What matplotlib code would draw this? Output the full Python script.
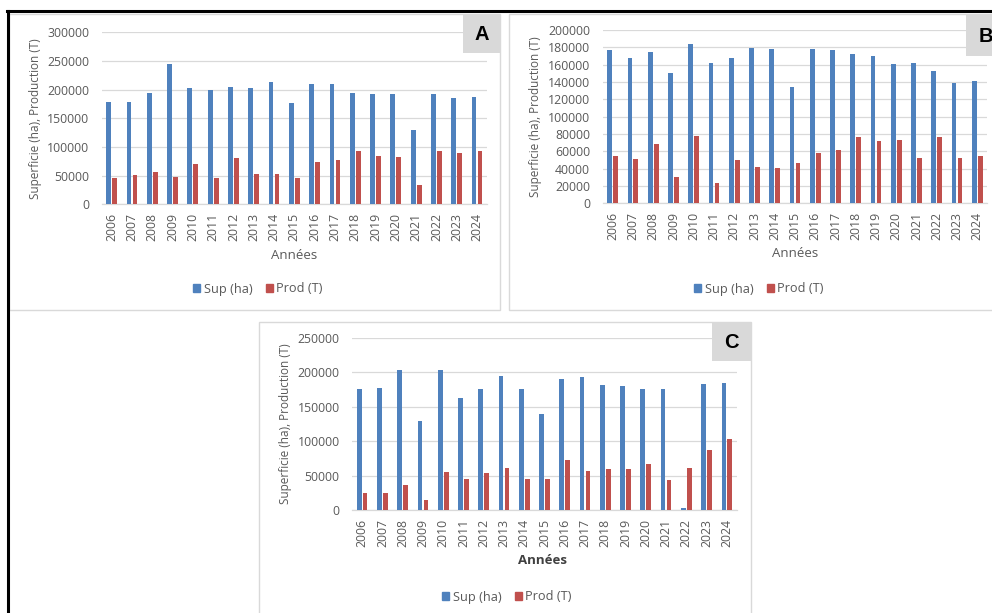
import matplotlib
matplotlib.use('Agg')
import matplotlib.pyplot as plt
from matplotlib.patches import Rectangle
import numpy as np

plt.rcParams['font.family'] = ['Open Sans', 'DejaVu Sans']

years = [str(y) for y in range(2006, 2025)]

sup_A = [179000, 179000, 194000, 245000, 203500, 198800, 204700, 202300, 214000, 177300,
         209300, 209300, 194000, 193000, 193000, 129000, 193000, 186000, 187000]
prod_A = [45300, 51200, 55800, 47700, 69800, 45300, 80800, 53500, 52300, 46500,
          73300, 77900, 93600, 83700, 82600, 34300, 92400, 90100, 93600]

sup_B = [177000, 168100, 175000, 150900, 184300, 162000, 168100, 179700, 177700, 134000,
         177700, 176600, 172400, 170400, 161200, 162000, 153200, 139300, 140900]
prod_B = [54100, 51100, 68700, 29900, 77900, 23800, 50300, 41500, 40700, 46400,
          58000, 61400, 76000, 72200, 72900, 52600, 76000, 52600, 54100]

sup_C = [175200, 177100, 203700, 129300, 203700, 162600, 175200, 194000, 175200, 140000,
         190600, 193100, 181900, 180000, 176200, 176200, 2900, 182900, 184800]
prod_C = [25100, 25100, 37200, 14500, 55500, 45800, 54500, 61300, 45800, 45800,
          72400, 56500, 59400, 59400, 67600, 43900, 61300, 87800, 102800]

series_labels = ['Sup (ha)', 'Prod (T)']
ylabel_text = 'Superficie (ha), Production (T)'
xlabel_text = 'Années'

BLUE = '#4F81BD'
RED = '#C0504D'
GRID = '#D9D9D9'
TXT = '#595959'

W, H = 992, 613
fig = plt.figure(figsize=(W / 100, H / 100), dpi=100)


def fx(x):
    return x / W


def fy(y):
    return 1 - y / H


def box(x0, y0, x1, y1, **kw):
    fig.patches.append(Rectangle((fx(x0), fy(y1)), (x1 - x0) / W, (y1 - y0) / H,
                                 transform=fig.transFigure, figure=fig, **kw))


# outer black frame (top and left)
fig.add_artist(plt.Line2D([fx(7), fx(992)], [fy(11), fy(11)], color='black', lw=2.2,
                          transform=fig.transFigure))
fig.add_artist(plt.Line2D([fx(7.5), fx(7.5)], [fy(11), fy(613)], color='black', lw=2.2,
                          transform=fig.transFigure))

panels = [
    dict(letter='A', sup=sup_A, prod=prod_A, ymax=300000, step=50000,
         box=(9, 14, 500, 310), axes=(101.5, 32.3, 487.2, 204.3),
         lbox=(463, 14, 500, 53), ylab=(36, 119), xlab=(294, 255), leg=(258, 289), bold=False),
    dict(letter='B', sup=sup_B, prod=prod_B, ymax=200000, step=20000,
         box=(509, 14, 1010, 310), axes=(602.5, 30.0, 987.4, 203.3),
         lbox=(966, 14, 1005, 56), ylab=(536, 117), xlab=(795, 254), leg=(759, 289), bold=False),
    dict(letter='C', sup=sup_C, prod=prod_C, ymax=250000, step=50000,
         box=(258.5, 322, 750.5, 640), axes=(352.0, 337.7, 737.0, 510.3),
         lbox=(712, 322, 750.5, 361), ylab=(285, 424), xlab=(543, 560), leg=(507, 597), bold=True),
]

x = np.arange(len(years))
bw = 0.235
off = 0.147

for p in panels:
    bx0, by0, bx1, by1 = p['box']
    box(bx0, by0, bx1, by1, facecolor='white', edgecolor=GRID, lw=1.0, zorder=0)
    lx0, ly0, lx1, ly1 = p['lbox']
    box(lx0, ly0, lx1, ly1, facecolor='#D9D9D9', edgecolor='none', zorder=8)
    fig.text(fx((lx0 + lx1) / 2), fy((ly0 + ly1) / 2 + 1), p['letter'], ha='center', va='center',
             fontsize=14.5, fontweight='bold', color='black', family=['Liberation Sans'], zorder=9)

    ax0, ay0, ax1, ay1 = p['axes']
    ax = fig.add_axes([fx(ax0), fy(ay1), (ax1 - ax0) / W, (ay1 - ay0) / H])
    ax.set_zorder(5)
    ax.set_facecolor('none')
    ax.bar(x - off, p['sup'], width=bw, color=BLUE, zorder=3)
    ax.bar(x + off, p['prod'], width=bw, color=RED, zorder=3)
    ax.set_xlim(-0.5, len(years) - 0.5)
    ax.set_ylim(0, p['ymax'])
    ax.set_yticks(np.arange(0, p['ymax'] + 1, p['step']))
    ax.set_yticklabels([str(v) for v in np.arange(0, p['ymax'] + 1, p['step'])])
    ax.set_xticks(x)
    ax.set_xticklabels(years, rotation=90)
    ax.tick_params(axis='both', length=0, colors=TXT, labelsize=8.8)
    ax.tick_params(axis='y', pad=9)
    ax.tick_params(axis='x', pad=6)
    ax.grid(axis='y', color=GRID, lw=0.9, zorder=0)
    ax.set_axisbelow(True)
    for s in ['top', 'right', 'left']:
        ax.spines[s].set_visible(False)
    ax.spines['bottom'].set_color(GRID)
    ax.spines['bottom'].set_linewidth(0.9)

    fig.text(fx(p['ylab'][0]), fy(p['ylab'][1]), ylabel_text, rotation=90, ha='center',
             va='center', fontsize=8.5, color=TXT)
    fig.text(fx(p['xlab'][0]), fy(p['xlab'][1]), xlabel_text, ha='center', va='center',
             fontsize=9.5, color=TXT if not p['bold'] else '#404040',
             fontweight='bold' if p['bold'] else 'normal')
    handles = [Rectangle((0, 0), 1, 1, color=BLUE), Rectangle((0, 0), 1, 1, color=RED)]
    fig.legend(handles, series_labels, loc='center', bbox_to_anchor=(fx(p['leg'][0]), fy(p['leg'][1])),
               ncol=2, frameon=False, fontsize=9.2, labelcolor=TXT, handlelength=0.55,
               handleheight=0.55, handletextpad=0.3, columnspacing=1.0)

fig.savefig('out.png', dpi=100)
